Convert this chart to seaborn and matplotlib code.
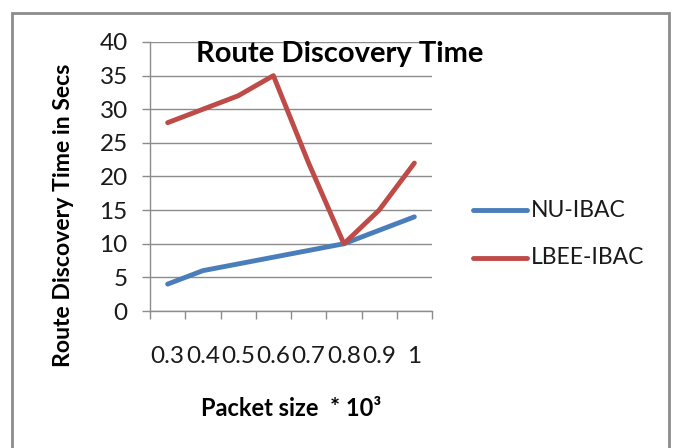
import matplotlib
matplotlib.use("Agg")
import matplotlib.pyplot as plt
import seaborn as sns
import pandas as pd
from matplotlib.patches import Rectangle
from matplotlib.ticker import FixedLocator

categories = ["0.3", "0.4", "0.5", "0.6", "0.7", "0.8", "0.9", "1"]
nu_ibac = [4, 6, 7, 8, 9, 10, 12, 14]
lbee_ibac = [28, 30, 32, 35, 22, 10, 15, 22]
series_names = ["NU-IBAC", "LBEE-IBAC"]
colors = ["#4A7EBB", "#BE4B48"]

rows = []
for name, vals in zip(series_names, [nu_ibac, lbee_ibac]):
    for i, v in enumerate(vals):
        rows.append({"pos": i, "value": v, "series": name})
df = pd.DataFrame(rows)

sns.set_theme(style="white")
plt.rcParams["font.family"] = ["Lato", "DejaVu Sans"]

W, H = 675, 448
fig = plt.figure(figsize=(W / 100, H / 100), dpi=100)
ax = fig.add_axes([150 / W, 1 - 311 / H, (432 - 150) / W, (311 - 42) / H])

sns.lineplot(data=df, x="pos", y="value", hue="series", hue_order=series_names,
             palette=colors, linewidth=3.5, ax=ax, legend=False, zorder=3)

ax.set_xlim(-0.5, len(categories) - 0.5)
ax.set_ylim(0, 40)
ax.set_yticks(range(0, 41, 5))
ax.yaxis.grid(True, color="#8C8C8C", linewidth=1.0)
ax.set_axisbelow(True)
for s in ["top", "right"]:
    ax.spines[s].set_visible(False)
for s in ["left", "bottom"]:
    ax.spines[s].set_color("#8C8C8C")
    ax.spines[s].set_linewidth(1.0)

ax.set_xticks(range(len(categories)))
ax.set_xticklabels(categories)
ax.xaxis.set_minor_locator(FixedLocator([i - 0.5 for i in range(len(categories) + 1)]))
ax.tick_params(axis="x", which="major", length=0, pad=25, labelsize=17.5, labelcolor="#1a1a1a")
ax.tick_params(axis="x", which="minor", length=6, width=1.0, color="#8C8C8C", direction="out", bottom=True)
ax.tick_params(axis="y", which="major", length=6, width=1.0, color="#8C8C8C", direction="out",
               left=True, pad=10, labelsize=17.5, labelcolor="#1a1a1a")
ax.set_xlabel("")
ax.set_ylabel("")

fig.text(64 / W, 1 - 215 / H, "Route Discovery Time in Secs", rotation=90,
         ha="center", va="center", fontsize=16.6, fontweight="bold", color="black")
fig.text(291 / W, 1 - 408 / H, "Packet size  * 10³", ha="center", va="center",
         fontsize=17, fontweight="bold", color="black")
fig.text(340 / W, 1 - 54 / H, "Route Discovery Time", ha="center", va="center",
         fontsize=21, fontweight="bold", color="black")

# legend
for name, col, ly in zip(series_names, colors, [210, 258]):
    fig.add_artist(plt.Line2D([473 / W, 527 / W], [1 - ly / H, 1 - ly / H],
                              color=col, linewidth=3.5, transform=fig.transFigure))
    fig.text(531 / W, 1 - ly / H, name, ha="left", va="center", fontsize=16.5, color="#1a1a1a")

# chart border
fig.add_artist(Rectangle((12 / W, -0.05), (669 - 12) / W, 1.05 - 13 / H,
                         transform=fig.transFigure, fill=False,
                         edgecolor="#8C8C8C", linewidth=2.0))

fig.savefig("out.png", dpi=100)
